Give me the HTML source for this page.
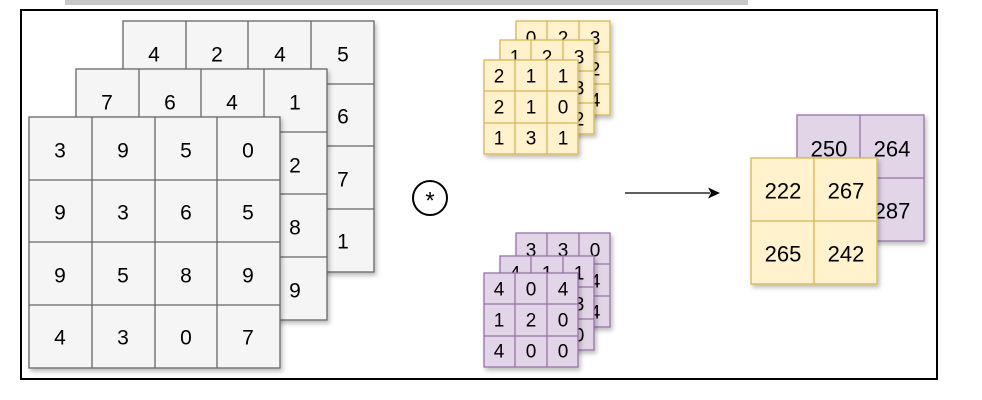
<!DOCTYPE html>
<html><head><meta charset="utf-8"><style>
html,body{margin:0;padding:0;background:#fff;}
svg{display:block;}
text{font-family:"Liberation Sans",sans-serif;fill:#000;text-anchor:middle;dominant-baseline:central;}
.g rect{fill:#f5f5f5;stroke:#666;stroke-width:1.3;}
.y rect{fill:#fff2cc;stroke:#d6b656;stroke-width:1.3;}
.p rect{fill:#e1d5e7;stroke:#9673a6;stroke-width:1.3;}
.g line{stroke:#666;stroke-width:1.3;}
.y line{stroke:#d6b656;stroke-width:1.3;}
.p line{stroke:#9673a6;stroke-width:1.3;}
.big text{font-size:21px;}
.sm text{font-size:19px;}
.out text{font-size:22px;}
</style></head><body>
<svg width="982" height="400" viewBox="0 0 982 400" xmlns="http://www.w3.org/2000/svg">
<defs><filter id="sh" x="-10%" y="-10%" width="130%" height="130%"><feDropShadow dx="2" dy="3" stdDeviation="2" flood-color="#000" flood-opacity="0.25"/></filter></defs>
<rect x="65" y="0" width="683" height="5" fill="#c8c8c8"/>
<rect x="21" y="10" width="916" height="369" fill="#fff" stroke="#000" stroke-width="2"/>

<!-- back gray -->
<g class="g big" filter="url(#sh)">
<rect x="123" y="21" width="251" height="251"/>
<line x1="186" y1="21" x2="186" y2="272"/><line x1="248" y1="21" x2="248" y2="272"/><line x1="311" y1="21" x2="311" y2="272"/>
<line x1="123" y1="84" x2="374" y2="84"/><line x1="123" y1="146" x2="374" y2="146"/><line x1="123" y1="209" x2="374" y2="209"/>
<text x="154" y="55">4</text><text x="217" y="55">2</text><text x="280" y="55">4</text><text x="343" y="55">5</text>
<text x="343" y="117">6</text><text x="343" y="180">7</text><text x="343" y="242">1</text>
</g>
<!-- middle gray -->
<g class="g big" filter="url(#sh)">
<rect x="76" y="69" width="251" height="251"/>
<line x1="139" y1="69" x2="139" y2="320"/><line x1="201" y1="69" x2="201" y2="320"/><line x1="264" y1="69" x2="264" y2="320"/>
<line x1="76" y1="132" x2="327" y2="132"/><line x1="76" y1="194" x2="327" y2="194"/><line x1="76" y1="257" x2="327" y2="257"/>
<text x="107" y="103">7</text><text x="170" y="103">6</text><text x="232" y="103">4</text><text x="295" y="103">1</text>
<text x="295" y="166">2</text><text x="295" y="228">8</text><text x="295" y="291">9</text>
</g>
<!-- front gray -->
<g class="g big" filter="url(#sh)">
<rect x="29" y="117" width="251" height="251"/>
<line x1="92" y1="117" x2="92" y2="368"/><line x1="155" y1="117" x2="155" y2="368"/><line x1="217" y1="117" x2="217" y2="368"/>
<line x1="29" y1="180" x2="280" y2="180"/><line x1="29" y1="242" x2="280" y2="242"/><line x1="29" y1="305" x2="280" y2="305"/>
<text x="60" y="151">3</text><text x="123" y="151">9</text><text x="186" y="151">5</text><text x="248" y="151">0</text>
<text x="60" y="213">9</text><text x="123" y="213">3</text><text x="186" y="213">6</text><text x="248" y="213">5</text>
<text x="60" y="276">9</text><text x="123" y="276">5</text><text x="186" y="276">8</text><text x="248" y="276">9</text>
<text x="60" y="338">4</text><text x="123" y="338">3</text><text x="186" y="338">0</text><text x="248" y="338">7</text>
</g>

<!-- yellow kernels -->
<g class="y sm" filter="url(#sh)">
<rect x="516" y="21" width="94" height="94"/>
<line x1="547" y1="21" x2="547" y2="115"/><line x1="579" y1="21" x2="579" y2="115"/>
<line x1="516" y1="52" x2="610" y2="52"/><line x1="516" y1="84" x2="610" y2="84"/>
<text x="531" y="39">0</text><text x="563" y="39">2</text><text x="595" y="39">3</text>
<text x="595" y="70">2</text><text x="595" y="101">4</text>
</g>
<g class="y sm" filter="url(#sh)">
<rect x="500" y="40" width="94" height="94"/>
<line x1="531" y1="40" x2="531" y2="134"/><line x1="563" y1="40" x2="563" y2="134"/>
<line x1="500" y1="71" x2="594" y2="71"/><line x1="500" y1="103" x2="594" y2="103"/>
<text x="515" y="58">1</text><text x="547" y="58">2</text><text x="579" y="58">3</text>
<text x="579" y="89">3</text><text x="579" y="120">2</text>
</g>
<g class="y sm" filter="url(#sh)">
<rect x="484" y="60" width="94" height="94"/>
<line x1="515" y1="60" x2="515" y2="154"/><line x1="547" y1="60" x2="547" y2="154"/>
<line x1="484" y1="91" x2="578" y2="91"/><line x1="484" y1="123" x2="578" y2="123"/>
<text x="499" y="77">2</text><text x="531" y="77">1</text><text x="563" y="77">1</text>
<text x="499" y="108">2</text><text x="531" y="108">1</text><text x="563" y="108">0</text>
<text x="499" y="139">1</text><text x="531" y="139">3</text><text x="563" y="139">1</text>
</g>

<!-- purple kernels -->
<g class="p sm" filter="url(#sh)">
<rect x="516" y="233" width="94" height="94"/>
<line x1="547" y1="233" x2="547" y2="327"/><line x1="579" y1="233" x2="579" y2="327"/>
<line x1="516" y1="264" x2="610" y2="264"/><line x1="516" y1="296" x2="610" y2="296"/>
<text x="531" y="251">3</text><text x="563" y="251">3</text><text x="595" y="251">0</text>
<text x="595" y="282">4</text><text x="595" y="313">4</text>
</g>
<g class="p sm" filter="url(#sh)">
<rect x="500" y="256" width="94" height="94"/>
<line x1="531" y1="256" x2="531" y2="350"/><line x1="563" y1="256" x2="563" y2="350"/>
<line x1="500" y1="287" x2="594" y2="287"/><line x1="500" y1="319" x2="594" y2="319"/>
<text x="515" y="274">4</text><text x="547" y="274">1</text><text x="579" y="274">1</text>
<text x="579" y="305">3</text><text x="579" y="336">0</text>
</g>
<g class="p sm" filter="url(#sh)">
<rect x="484" y="273" width="94" height="94"/>
<line x1="515" y1="273" x2="515" y2="367"/><line x1="547" y1="273" x2="547" y2="367"/>
<line x1="484" y1="304" x2="578" y2="304"/><line x1="484" y1="336" x2="578" y2="336"/>
<text x="499" y="290">4</text><text x="531" y="290">0</text><text x="563" y="290">4</text>
<text x="499" y="321">1</text><text x="531" y="321">2</text><text x="563" y="321">0</text>
<text x="499" y="352">4</text><text x="531" y="352">0</text><text x="563" y="352">0</text>
</g>

<!-- convolution symbol -->
<circle cx="430" cy="198" r="17" fill="#fff" stroke="#000" stroke-width="2"/>
<text x="430" y="201" style="font-size:24px">*</text>

<!-- arrow -->
<line x1="625" y1="193" x2="710" y2="193" stroke="#000" stroke-width="1.3"/>
<polygon points="720,193 708,187.5 711,193 708,198.5" fill="#000"/>

<!-- output -->
<g class="p out" filter="url(#sh)">
<rect x="797" y="115" width="127" height="126"/>
<line x1="860" y1="115" x2="860" y2="241"/><line x1="797" y1="178" x2="924" y2="178"/>
<text x="829" y="149">250</text><text x="892" y="149">264</text>
<text x="892" y="211">287</text>
</g>
<g class="y out" filter="url(#sh)">
<rect x="751" y="158" width="126" height="126"/>
<line x1="814" y1="158" x2="814" y2="284"/><line x1="751" y1="221" x2="877" y2="221"/>
<text x="783" y="191">222</text><text x="846" y="191">267</text>
<text x="783" y="254">265</text><text x="846" y="254">242</text>
</g>
</svg>
</body></html>
